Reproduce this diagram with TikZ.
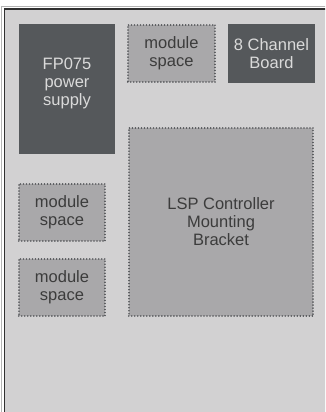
\documentclass[tikz,border=0pt]{standalone}
\usepackage{fontspec}
\setmainfont{Liberation Sans}
\definecolor{bgfill}{HTML}{D2D1D2}
\definecolor{darkfill}{HTML}{55585B}
\definecolor{modfill}{HTML}{A9A8AA}
\definecolor{dotc}{HTML}{55575A}
\definecolor{darktext}{HTML}{3C3C3C}
\definecolor{lighttext}{HTML}{DADADA}
\definecolor{framec}{HTML}{2F2F2F}
\definecolor{outerc}{HTML}{B4B4B4}
\tikzset{
  lbl/.style={font=\fontsize{16.5}{18}\selectfont, align=center},
  darkbox/.style={fill=darkfill, text=lighttext, lbl, inner sep=0pt},
  modbox/.style={fill=modfill, draw=dotc, line width=1.7pt, line cap=round,
    dash pattern=on 0.01pt off 3pt, text=darktext, lbl, inner sep=0pt},
}
\begin{document}
\begin{tikzpicture}[x=1pt,y=-1pt]
\useasboundingbox (0,0) rectangle (325,412);
\clip (0,0) rectangle (325,412);
\fill[white] (0,0) rectangle (325,412);
\draw[outerc, line width=0.8pt] (1.5,6.5) rectangle (340,430);
\draw[framec, fill=bgfill, line width=1.2pt] (4.6,9) rectangle (340,430);

\node[darkbox, minimum width=96pt, minimum height=130pt] (fp) at (67,89) {};
\node[lbl, text=lighttext, inner sep=0pt] (fptext) at (67,83) {FP075\\power\\supply};

\node[modbox, minimum width=87.5pt, minimum height=57.5pt] (mtop) at (171.5,53.5) {module\\space};
\node[darkbox, minimum width=87pt, minimum height=59pt] (ch8) at (271.5,53.5) {8 Channel\\Board};
\node[modbox, minimum width=184.5pt, minimum height=188.5pt] (lsp) at (221,222) {LSP Controller\\Mounting\\Bracket};
\node[modbox, minimum width=86.5pt, minimum height=57.5pt] (m1) at (62,212.5) {module\\space};
\node[modbox, minimum width=86.5pt, minimum height=57.5pt] (m2) at (62,287.5) {module\\space};
\end{tikzpicture}
\end{document}
